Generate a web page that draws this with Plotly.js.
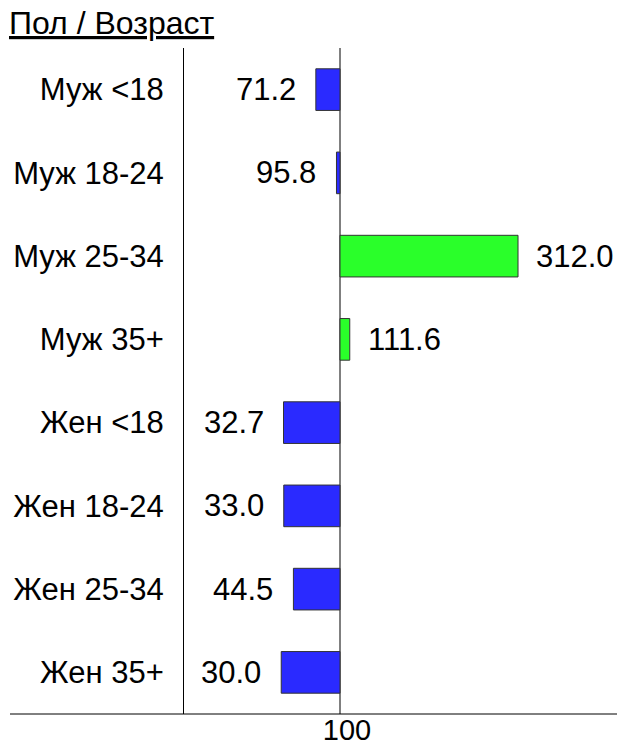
<!DOCTYPE html>
<html lang="ru">
<head>
    <meta charset="UTF-8">
    <title>Пол / Возраст</title>
    <script src="https://cdn.plot.ly/plotly-3.0.1.min.js"></script>
    <style>
        body { margin: 0; background: #fff; }
    </style>
</head>
<body>
    <div id="myPlot" style="width:617px;height:746px;"></div>

    <script>
        const categories = ['Муж <18', 'Муж 18-24', 'Муж 25-34', 'Муж 35+',
                            'Жен <18', 'Жен 18-24', 'Жен 25-34', 'Жен 35+'];
        const values = [71.2, 95.8, 312.0, 111.6, 32.7, 33.0, 44.5, 30.0];
        const baseline = 100;

        const blue = 'rgb(42,42,255)';
        const green = 'rgb(42,255,42)';
        const fnt = 'Liberation Sans, Arial, sans-serif';

        let bars = {
            type: 'bar',
            orientation: 'h',
            y: categories,
            x: values.map(v => v - baseline),
            base: values.map(() => baseline),
            width: 0.5,
            marker: {
                color: values.map(v => v < baseline ? blue : green),
                line: { color: '#333', width: 1 }
            },
            hoverinfo: 'skip'
        };

        // value labels next to the bar ends
        let labels = values.map((v, i) => ({
            x: v,
            y: categories[i],
            xref: 'x',
            yref: 'y',
            text: v.toFixed(1),
            showarrow: false,
            xanchor: v < baseline ? 'right' : 'left',
            xshift: v < baseline ? -18 : 16,
            font: { family: fnt, size: 31, color: '#000' }
        }));

        labels.push({
            xref: 'paper', yref: 'paper',
            x: -177 / 431, y: 1,
            xanchor: 'left', yanchor: 'bottom', yshift: 5,
            text: '<u>Пол / Возраст</u>',
            showarrow: false,
            font: { family: fnt, size: 32, color: '#000' }
        });

        let layout = {
            width: 617,
            height: 746,
            margin: { l: 184, r: 2, t: 48, b: 32 },
            paper_bgcolor: '#fff',
            plot_bgcolor: '#fff',
            showlegend: false,
            font: { family: fnt, size: 31, color: '#000' },
            xaxis: {
                range: [-85.8, 427.5],
                tickvals: [baseline],
                ticktext: ['100'],
                tickfont: { family: fnt, size: 29 },
                ticklabelstandoff: -4,
                ticklabelshift: 7,
                showgrid: false,
                zeroline: false,
                showline: false,
                ticks: '',
                fixedrange: true
            },
            yaxis: {
                autorange: 'reversed',
                showgrid: false,
                zeroline: false,
                showline: true,
                linecolor: '#000',
                linewidth: 1,
                ticks: '',
                ticklabelstandoff: 13,
                fixedrange: true
            },
            shapes: [
                { type: 'line', xref: 'x', yref: 'paper', x0: baseline, x1: baseline, y0: 0, y1: 1,
                  line: { color: '#000', width: 1 }, layer: 'below' },
                { type: 'line', xref: 'paper', yref: 'paper', x0: -174 / 431, x1: 1.01, y0: 0, y1: 0,
                  line: { color: '#000', width: 1 } }
            ],
            annotations: labels
        };

        Plotly.newPlot('myPlot', [bars], layout, { staticPlot: true });
    </script>
</body>
</html>
